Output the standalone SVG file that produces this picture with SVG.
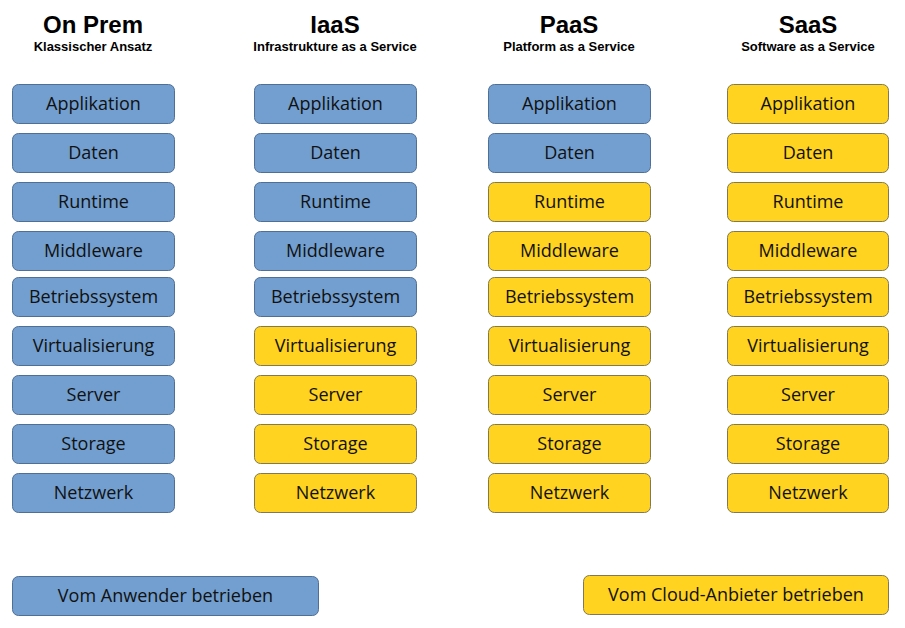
<svg xmlns="http://www.w3.org/2000/svg" width="905" height="628" viewBox="0 0 905 628">
<style>
.h{font-family:"Liberation Sans",Arial,sans-serif;font-weight:bold;font-size:24px;fill:#000;text-anchor:middle}
.s{font-family:"Liberation Sans",Arial,sans-serif;font-weight:bold;font-size:13px;fill:#000;text-anchor:middle}
.u{fill:#729fcf;stroke:#4f6f95;stroke-width:1}
.c{fill:#ffd320;stroke:#7f7a55;stroke-width:1}
.t{font-family:"Open Sans","Noto Sans","DejaVu Sans",sans-serif;font-size:18px;fill:#111;text-anchor:middle}
</style>
<rect width="905" height="628" fill="#fff"/>
<g id="headers">
<text class="h" x="93" y="33">On Prem</text>
<text class="s" x="93" y="51">Klassischer Ansatz</text>
<text class="h" x="335" y="33">IaaS</text>
<text class="s" x="335" y="51">Infrastrukture as a Service</text>
<text class="h" x="569" y="33">PaaS</text>
<text class="s" x="569" y="51">Platform as a Service</text>
<text class="h" x="808" y="33">SaaS</text>
<text class="s" x="808" y="51">Software as a Service</text>
</g>
<g id="onprem">
<g id="op-app"><rect class="u" x="12.5" y="84.5" width="162" height="39" rx="6"/><text class="t" x="93.5" y="110">Applikation</text></g>
<g id="op-daten"><rect class="u" x="12.5" y="133.5" width="162" height="39" rx="6"/><text class="t" x="93.5" y="159">Daten</text></g>
<g id="op-runtime"><rect class="u" x="12.5" y="182.5" width="162" height="39" rx="6"/><text class="t" x="93.5" y="208">Runtime</text></g>
<g id="op-middleware"><rect class="u" x="12.5" y="231.5" width="162" height="39" rx="6"/><text class="t" x="93.5" y="257">Middleware</text></g>
<g id="op-os"><rect class="u" x="12.5" y="277.5" width="162" height="39" rx="6"/><text class="t" x="93.5" y="303">Betriebssystem</text></g>
<g id="op-virt"><rect class="u" x="12.5" y="326.5" width="162" height="39" rx="6"/><text class="t" x="93.5" y="352">Virtualisierung</text></g>
<g id="op-server"><rect class="u" x="12.5" y="375.5" width="162" height="39" rx="6"/><text class="t" x="93.5" y="401">Server</text></g>
<g id="op-storage"><rect class="u" x="12.5" y="424.5" width="162" height="39" rx="6"/><text class="t" x="93.5" y="450">Storage</text></g>
<g id="op-netz"><rect class="u" x="12.5" y="473.5" width="162" height="39" rx="6"/><text class="t" x="93.5" y="499">Netzwerk</text></g>
</g>
<g id="iaas">
<g id="ia-app"><rect class="u" x="254.5" y="84.5" width="162" height="39" rx="6"/><text class="t" x="335.5" y="110">Applikation</text></g>
<g id="ia-daten"><rect class="u" x="254.5" y="133.5" width="162" height="39" rx="6"/><text class="t" x="335.5" y="159">Daten</text></g>
<g id="ia-runtime"><rect class="u" x="254.5" y="182.5" width="162" height="39" rx="6"/><text class="t" x="335.5" y="208">Runtime</text></g>
<g id="ia-middleware"><rect class="u" x="254.5" y="231.5" width="162" height="39" rx="6"/><text class="t" x="335.5" y="257">Middleware</text></g>
<g id="ia-os"><rect class="u" x="254.5" y="277.5" width="162" height="39" rx="6"/><text class="t" x="335.5" y="303">Betriebssystem</text></g>
<g id="ia-virt"><rect class="c" x="254.5" y="326.5" width="162" height="39" rx="6"/><text class="t" x="335.5" y="352">Virtualisierung</text></g>
<g id="ia-server"><rect class="c" x="254.5" y="375.5" width="162" height="39" rx="6"/><text class="t" x="335.5" y="401">Server</text></g>
<g id="ia-storage"><rect class="c" x="254.5" y="424.5" width="162" height="39" rx="6"/><text class="t" x="335.5" y="450">Storage</text></g>
<g id="ia-netz"><rect class="c" x="254.5" y="473.5" width="162" height="39" rx="6"/><text class="t" x="335.5" y="499">Netzwerk</text></g>
</g>
<g id="paas">
<g id="pa-app"><rect class="u" x="488.5" y="84.5" width="162" height="39" rx="6"/><text class="t" x="569.5" y="110">Applikation</text></g>
<g id="pa-daten"><rect class="u" x="488.5" y="133.5" width="162" height="39" rx="6"/><text class="t" x="569.5" y="159">Daten</text></g>
<g id="pa-runtime"><rect class="c" x="488.5" y="182.5" width="162" height="39" rx="6"/><text class="t" x="569.5" y="208">Runtime</text></g>
<g id="pa-middleware"><rect class="c" x="488.5" y="231.5" width="162" height="39" rx="6"/><text class="t" x="569.5" y="257">Middleware</text></g>
<g id="pa-os"><rect class="c" x="488.5" y="277.5" width="162" height="39" rx="6"/><text class="t" x="569.5" y="303">Betriebssystem</text></g>
<g id="pa-virt"><rect class="c" x="488.5" y="326.5" width="162" height="39" rx="6"/><text class="t" x="569.5" y="352">Virtualisierung</text></g>
<g id="pa-server"><rect class="c" x="488.5" y="375.5" width="162" height="39" rx="6"/><text class="t" x="569.5" y="401">Server</text></g>
<g id="pa-storage"><rect class="c" x="488.5" y="424.5" width="162" height="39" rx="6"/><text class="t" x="569.5" y="450">Storage</text></g>
<g id="pa-netz"><rect class="c" x="488.5" y="473.5" width="162" height="39" rx="6"/><text class="t" x="569.5" y="499">Netzwerk</text></g>
</g>
<g id="saas">
<g id="sa-app"><rect class="c" x="727.5" y="84.5" width="161" height="39" rx="6"/><text class="t" x="808" y="110">Applikation</text></g>
<g id="sa-daten"><rect class="c" x="727.5" y="133.5" width="161" height="39" rx="6"/><text class="t" x="808" y="159">Daten</text></g>
<g id="sa-runtime"><rect class="c" x="727.5" y="182.5" width="161" height="39" rx="6"/><text class="t" x="808" y="208">Runtime</text></g>
<g id="sa-middleware"><rect class="c" x="727.5" y="231.5" width="161" height="39" rx="6"/><text class="t" x="808" y="257">Middleware</text></g>
<g id="sa-os"><rect class="c" x="727.5" y="277.5" width="161" height="39" rx="6"/><text class="t" x="808" y="303">Betriebssystem</text></g>
<g id="sa-virt"><rect class="c" x="727.5" y="326.5" width="161" height="39" rx="6"/><text class="t" x="808" y="352">Virtualisierung</text></g>
<g id="sa-server"><rect class="c" x="727.5" y="375.5" width="161" height="39" rx="6"/><text class="t" x="808" y="401">Server</text></g>
<g id="sa-storage"><rect class="c" x="727.5" y="424.5" width="161" height="39" rx="6"/><text class="t" x="808" y="450">Storage</text></g>
<g id="sa-netz"><rect class="c" x="727.5" y="473.5" width="161" height="39" rx="6"/><text class="t" x="808" y="499">Netzwerk</text></g>
</g>
<g id="legend">
<g id="leg-user"><rect class="u" x="12.5" y="576.5" width="306" height="39" rx="6"/><text class="t" x="165.5" y="602">Vom Anwender betrieben</text></g>
<g id="leg-cloud"><rect class="c" x="583.5" y="575.5" width="305" height="39" rx="6"/><text class="t" x="736" y="601">Vom Cloud-Anbieter betrieben</text></g>
</g>
<g id="connectors"></g>
</svg>
